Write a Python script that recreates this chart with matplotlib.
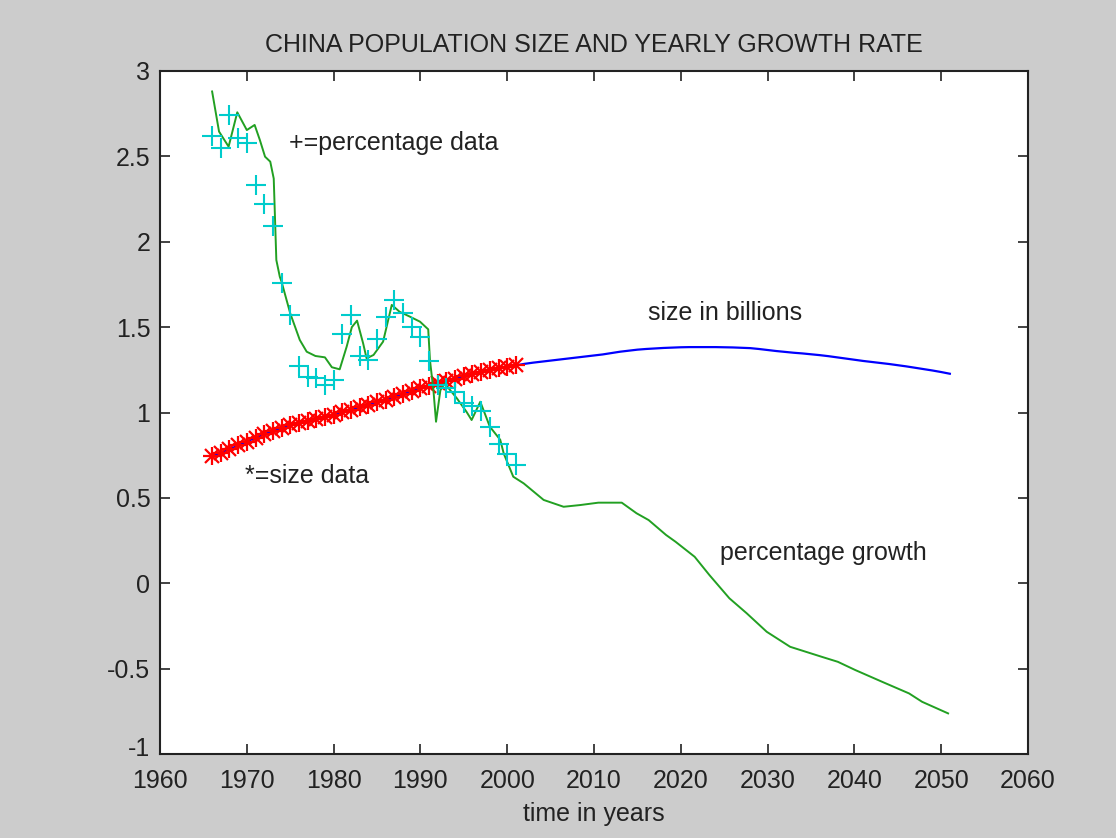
import numpy as np
import matplotlib
matplotlib.use("Agg")
import matplotlib.pyplot as plt
import matplotlib.transforms as mtransforms
from matplotlib import font_manager

# ---- data -------------------------------------------------------------
# observed population of China (billions), 1966-2001
size_years = list(range(1966, 2002))
size_data = [0.745, 0.764, 0.785, 0.807, 0.830, 0.852, 0.872, 0.892, 0.909,
             0.924, 0.937, 0.950, 0.963, 0.975, 0.987, 1.001, 1.017, 1.030,
             1.044, 1.059, 1.075, 1.093, 1.110, 1.127, 1.143, 1.158, 1.172,
             1.185, 1.199, 1.211, 1.224, 1.236, 1.248, 1.258, 1.267, 1.276]

# projected population (billions), 2002-2051
proj_years = list(range(2002, 2052))
proj_size = [1.285, 1.292, 1.298, 1.304, 1.310, 1.316, 1.322, 1.328, 1.334,
             1.340, 1.348, 1.356, 1.362, 1.368, 1.372, 1.375, 1.378, 1.380,
             1.382, 1.383, 1.383, 1.383, 1.383, 1.382, 1.381, 1.379, 1.377,
             1.372, 1.366, 1.360, 1.355, 1.350, 1.346, 1.341, 1.336, 1.330,
             1.323, 1.316, 1.309, 1.302, 1.296, 1.290, 1.284, 1.277, 1.270,
             1.262, 1.254, 1.246, 1.237, 1.227]

# observed yearly growth rate (%), 1966-2001
pct_years = list(range(1966, 2002))
pct_data = [2.62, 2.55, 2.74, 2.61, 2.58, 2.33, 2.22, 2.09, 1.76, 1.57,
            1.27, 1.21, 1.20, 1.16, 1.19, 1.46, 1.57, 1.33, 1.31, 1.43,
            1.56, 1.66, 1.58, 1.50, 1.44, 1.30, 1.16, 1.145, 1.12, 1.055,
            1.04, 1.006, 0.914, 0.818, 0.758, 0.695]

# modelled percentage growth curve
growth_t = [1966.0, 1966.8, 1967.9, 1968.9, 1970.0, 1970.9, 1971.5, 1972.1,
            1972.7, 1973.1, 1973.4, 1973.8, 1974.0, 1975.0, 1976.1, 1976.9,
            1977.9, 1979.0, 1979.8, 1980.7, 1981.5, 1982.1, 1982.7, 1983.4,
            1983.8, 1984.6, 1985.7, 1986.7, 1987.6, 1988.8, 1989.95, 1990.9,
            1991.1, 1991.5, 1991.8, 1992.3, 1992.8, 1994.2, 1995.3, 1995.9,
            1996.9, 1998.0, 1999.2, 1999.6, 2000.7, 2001.9, 2004.2, 2006.5,
            2008.4, 2010.5, 2013.2, 2014.9, 2016.3, 2018.3, 2019.4, 2021.6,
            2023.3, 2025.6, 2027.6, 2029.9, 2032.6, 2036.2, 2038.1, 2040.1,
            2043.2, 2046.3, 2047.8, 2050.8]
growth_v = [2.88, 2.645, 2.557, 2.758, 2.654, 2.684, 2.596, 2.498,
            2.469, 2.37, 1.893, 1.795, 1.766, 1.581, 1.425, 1.356,
            1.331, 1.323, 1.265, 1.253, 1.385, 1.50, 1.538, 1.405,
            1.317, 1.337, 1.415, 1.63, 1.59, 1.561, 1.532, 1.487,
            1.307, 1.13, 0.946, 1.13, 1.17, 1.083, 1.005, 0.956,
            1.063, 0.917, 0.84, 0.76, 0.624, 0.585, 0.488, 0.448,
            0.458, 0.472, 0.472, 0.41, 0.37, 0.283, 0.243, 0.155,
            0.048, -0.088, -0.176, -0.284, -0.372, -0.43, -0.46, -0.508,
            -0.577, -0.645, -0.694, -0.762]

x_ticks = list(range(1960, 2061, 10))
y_ticks = [-1, -0.5, 0, 0.5, 1, 1.5, 2, 2.5, 3]
y_tick_labels = ["-1", "-0.5", "0", "0.5", "1", "1.5", "2", "2.5", "3"]

# ---- fonts ------------------------------------------------------------
installed = {f.name for f in font_manager.fontManager.ttflist}
if "Liberation Sans Narrow" in installed:
    plt.rcParams["font.family"] = ["Liberation Sans Narrow", "DejaVu Sans"]
    fs = 20
else:
    plt.rcParams["font.family"] = ["Liberation Sans", "DejaVu Sans"]
    fs = 18

# ---- figure -----------------------------------------------------------
fig = plt.figure(figsize=(11.16, 8.38), dpi=100, facecolor="#cccccc")
ax = fig.add_axes([0.1434, 0.1002, 0.7777, 0.8151])
ax.set_facecolor("white")

green = "#22a022"
cyan = "#00cccc"
ink = "#222222"

all_years = size_years + proj_years
all_size = size_data + proj_size
ax.plot(all_years, all_size, color="#0000ff", lw=1.6, zorder=2)
ax.plot(size_years, size_data, linestyle="none", marker="+", ms=13,
        mew=1.6, color="#ff0000", zorder=3)
ax.plot(size_years, size_data, linestyle="none", marker="x", ms=9.5,
        mew=1.6, color="#ff0000", zorder=3)
ax.plot(growth_t, growth_v, color=green, lw=1.4, zorder=4)
ax.plot(pct_years, pct_data, linestyle="none", marker="+", ms=14,
        mew=1.5, color=cyan, zorder=5)

ax.set_xlim(1960, 2060)
ax.set_ylim(-1, 3)
ax.set_xticks(x_ticks)
ax.set_yticks(y_ticks)
ax.set_yticklabels(y_tick_labels)
ax.tick_params(direction="in", length=7, width=1.2, top=True, right=True,
               labelsize=fs, colors=ink)
ax.tick_params(axis="x", pad=11)
ax.tick_params(axis="y", pad=7)
for s in ax.spines.values():
    s.set_linewidth(1.5)
    s.set_color(ink)

# lift the bottom y label a little so it clears the first year label
lowest = ax.get_yticklabels()[0]
lowest.set_transform(lowest.get_transform() +
                     mtransforms.ScaledTranslation(0, 8 / 100, fig.dpi_scale_trans))

ax.set_title("CHINA POPULATION SIZE AND YEARLY GROWTH RATE", fontsize=fs,
             color=ink, pad=14)
ax.set_xlabel("time in years", fontsize=fs, color=ink, labelpad=6)

ax.text(1974.9, 2.58, "+=percentage data", fontsize=fs, va="center", color=ink)
ax.text(2016.2, 1.58, "size in billions", fontsize=fs, va="center", color=ink)
ax.text(1969.8, 0.63, "*=size data", fontsize=fs, va="center", color=ink)
ax.text(2024.5, 0.18, "percentage growth", fontsize=fs, va="center", color=ink)

fig.savefig("out.png", dpi=100, facecolor=fig.get_facecolor())
